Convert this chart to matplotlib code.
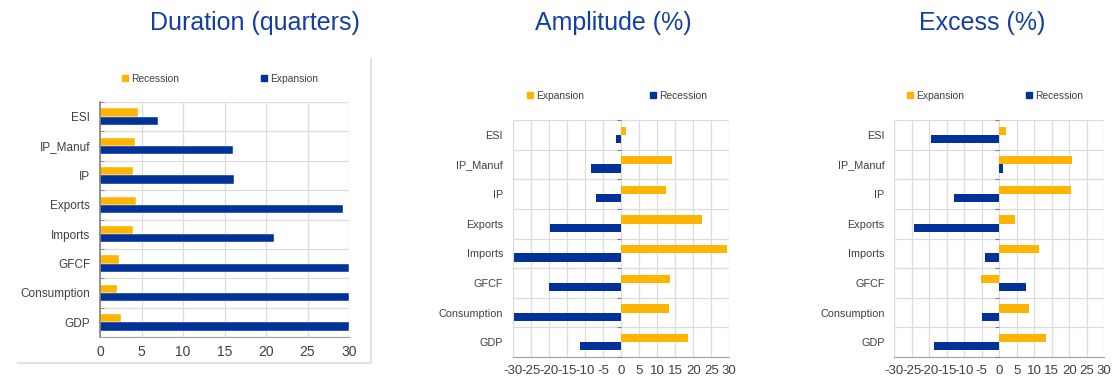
import numpy as np
import matplotlib
matplotlib.use("Agg")
import matplotlib.pyplot as plt
from matplotlib.lines import Line2D

plt.rcParams['font.family'] = ['Liberation Sans', 'DejaVu Sans']

categories = ['ESI', 'IP_Manuf', 'IP', 'Exports', 'Imports', 'GFCF', 'Consumption', 'GDP']

dur_recession = [4.6, 4.2, 4.0, 4.3, 4.0, 2.3, 2.0, 2.5]
dur_expansion = [7.0, 16.0, 16.2, 29.3, 21.0, 30.0, 30.0, 30.0]

amp_expansion = [1.3, 14.1, 12.4, 22.3, 29.3, 13.5, 13.3, 18.6]
amp_recession = [-1.4, -8.2, -7.0, -19.6, -30.0, -19.9, -30.0, -11.4]

exc_expansion = [1.8, 20.9, 20.5, 4.5, 11.4, -5.2, 8.4, 13.2]
exc_recession = [-19.5, 1.1, -13.0, -24.5, -4.1, 7.7, -5.0, -18.7]

titles = ['Duration (quarters)', 'Amplitude (%)', 'Excess (%)']
x_ticks_dur = [0, 5, 10, 15, 20, 25, 30]
x_ticks_sym = [-30, -25, -20, -15, -10, -5, 0, 5, 10, 15, 20, 25, 30]

BLUE = '#003299'
YELLOW = '#FFB400'
TITLE = '#1340a0'
GRID = '#dcdcdc'
TXT = '#404040'

W, H = 1112, 381
fig = plt.figure(figsize=(W / 100, H / 100), dpi=100)


def ax_at(l, t, r, b):
    return fig.add_axes([l / W, 1 - b / H, (r - l) / W, (b - t) / H])


ax1 = ax_at(100, 102, 349, 337)
ax2 = ax_at(512.7, 120, 729.3, 357)
ax3 = ax_at(894.3, 120, 1104.3, 357)

y = np.arange(len(categories))
bh = 0.28


def style(ax, xlim, xticks, labfs, ylabfs, left_dark):
    ax.set_xlim(*xlim)
    ax.set_ylim(len(categories) - 0.5, -0.5)
    ax.set_xticks(xticks)
    ax.set_xticklabels([str(t) for t in xticks], fontsize=labfs, color=TXT)
    ax.set_yticks(y)
    ax.set_yticklabels(categories, fontsize=ylabfs, color=TXT)
    ax.tick_params(axis='both', length=0)
    ax.tick_params(axis='y', pad=7)
    ax.tick_params(axis='x', pad=6)
    ax.set_yticks(np.arange(-0.5, len(categories), 0.5), minor=True)
    ax.tick_params(axis='y', which='minor', length=0)
    ax.grid(True, axis='x', color=GRID, lw=0.9)
    ax.grid(True, axis='y', which='minor', color=GRID, lw=0.9)
    ax.set_axisbelow(True)
    for s in ['top', 'right']:
        ax.spines[s].set_visible(False)
    ax.spines['bottom'].set_color('#a0a0a0')
    ax.spines['left'].set_color('#808080' if left_dark else GRID)


# Panel 1: Duration
ax1.barh(y - bh / 2, dur_recession, height=bh, color=YELLOW, edgecolor='white', lw=0.3)
ax1.barh(y + bh / 2, dur_expansion, height=bh, color=BLUE, edgecolor='white', lw=0.3)
style(ax1, (0, 30), x_ticks_dur, 10, 8.5, True)
ax1.tick_params(axis='y', which='minor', length=3, direction='in', color='#808080')
ax1.grid(True, axis='y', which='minor', color=GRID, lw=0.9)
ax1.spines['left'].set_linewidth(1.2)

# Panel 2: Amplitude
ax2.barh(y - bh / 2, amp_expansion, height=bh, color=YELLOW)
ax2.barh(y + bh / 2, amp_recession, height=bh, color=BLUE)
style(ax2, (-30, 30), x_ticks_sym, 9.5, 7.8, False)

# Panel 3: Excess
ax3.barh(y - bh / 2, exc_expansion, height=bh, color=YELLOW)
ax3.barh(y + bh / 2, exc_recession, height=bh, color=BLUE)
style(ax3, (-30, 30), x_ticks_sym, 9.5, 7.8, False)

# small ticks on the zero line
for ax in (ax2, ax3):
    bounds = np.arange(-0.5, len(categories), 1.0)
    ax.plot(np.zeros_like(bounds), bounds, ls='none', marker=0, ms=3,
            color='#808080', mew=0.8, clip_on=False, zorder=3)

# titles
for cx, t in zip([255, 613, 982], titles):
    fig.text(cx / W, 1 - 23 / H, t, ha='center', va='center', fontsize=18, color=TITLE)


def legend(ax, labels, colors, cx, cy, colsp):
    handles = [Line2D([], [], ls='none', marker='s', ms=4.5, color=c) for c in colors]
    ax.legend(handles, labels, loc='center', bbox_to_anchor=(cx / W, 1 - cy / H),
              bbox_transform=fig.transFigure, ncol=2, frameon=False, fontsize=7.4,
              handlelength=0.6, handletextpad=0.3, columnspacing=colsp,
              labelcolor=TXT)


legend(ax1, ['Recession', 'Expansion'], [YELLOW, BLUE], 220, 79, 8.0)
legend(ax2, ['Expansion', 'Recession'], [YELLOW, BLUE], 617, 96, 6.4)
legend(ax3, ['Expansion', 'Recession'], [YELLOW, BLUE], 995, 96, 6.0)

# frame lines around panel 1
fig.add_artist(Line2D([18 / W, 371 / W], [1 - 363 / H, 1 - 363 / H],
                      transform=fig.transFigure, color='#e3e3e3', lw=1.5))
fig.add_artist(Line2D([371 / W, 371 / W], [1 - 59 / H, 1 - 363 / H],
                      transform=fig.transFigure, color='#e3e3e3', lw=1.5))

fig.savefig('out.png', dpi=100)
